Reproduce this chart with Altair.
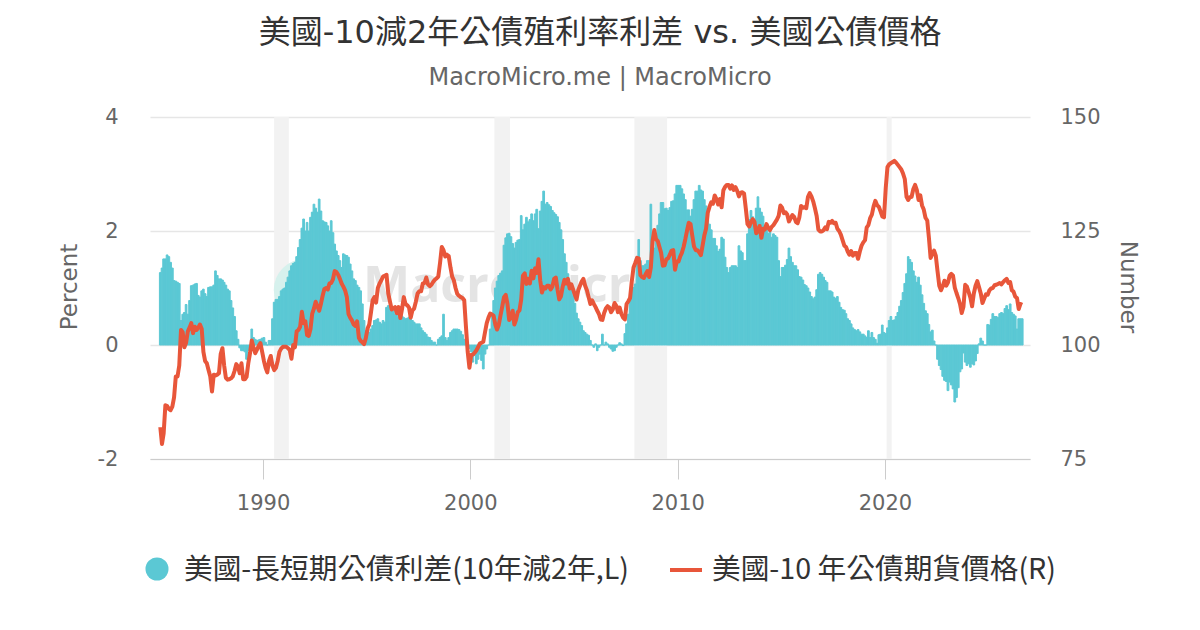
import altair as alt
import pandas as pd

# ---- data: monthly, starting Jan 1985 ----
spread = [
    1.27, 1.35, 1.51, 1.51, 1.58, 1.55, 1.45, 1.35, 1.13, 1.12,
    1.1, 1.08, 0.43, 0.54, 0.57, 0.71, 0.54, 0.78, 1.04, 1.05,
    1.07, 1.08, 0.87, 0.84, 0.95, 0.98, 0.9, 0.85, 1.01, 1.02,
    1.02, 1.05, 1.3, 1.22, 1.16, 1.16, 1.14, 1.1, 1.05, 0.98,
    0.95, 0.78, 0.65, 0.5, 0.25, 0.1, -0.05, -0.1, -0.1, -0.12,
    -0.25, -0.1, -0.08, 0.28, 0.13, 0.1, 0.08, 0.09, 0.1, 0.12,
    0.13, 0.05, 0.0, 0.08, 0.08, 0.46, 0.75, 0.8, 0.8, 0.85,
    0.95, 0.98, 1.0, 1.1, 1.19, 1.3, 1.39, 1.43, 1.45, 1.55,
    1.71, 1.85, 2.05, 2.21, 2.0, 2.15, 2.0, 2.24, 2.33, 2.47,
    2.4, 2.33, 2.56, 2.35, 2.18, 2.16, 2.15, 2.09, 2.0, 2.18,
    1.97, 1.77, 1.65, 1.57, 1.48, 1.36, 1.6, 1.58, 1.57, 1.54,
    1.42, 1.3, 1.16, 1.13, 1.05, 1.01, 0.95, 0.72, 0.43, 0.25,
    0.31, 0.22, 0.28, 0.34, 0.43, 0.44, 0.46, 0.4, 0.37, 0.43,
    0.4, 0.66, 0.69, 0.66, 0.63, 0.6, 0.54, 0.6, 0.49, 0.5,
    0.51, 0.48, 0.46, 0.47, 0.49, 0.46, 0.43, 0.4, 0.37, 0.37,
    0.37, 0.3, 0.25, 0.22, 0.19, 0.14, 0.13, 0.08, 0.05, 0.05,
    0.0, 0.1, 0.13, 0.16, 0.54, 0.13, 0.08, 0.13, 0.22, 0.25,
    0.28, 0.28, 0.28, 0.27, 0.24, 0.18, 0.1, 0.05, -0.02, -0.06,
    -0.12, -0.3, -0.18, -0.33, -0.25, -0.16, -0.27, -0.42, -0.16, -0.07,
    0.0, 0.28, 0.56, 0.78, 1.0, 1.12, 1.22, 1.26, 1.3, 1.75,
    1.88, 1.95, 1.96, 1.9, 1.78, 1.7, 1.8, 1.84, 1.85, 2.27,
    2.02, 2.12, 2.24, 2.16, 2.2, 2.3, 2.18, 2.3, 2.38, 2.04,
    2.35, 2.52, 2.7, 2.47, 2.5, 2.46, 2.43, 2.36, 2.32, 2.29,
    2.25, 2.15, 2.02, 1.85, 1.6, 1.45, 1.25, 1.1, 0.97, 0.86,
    0.73, 0.56, 0.46, 0.4, 0.34, 0.25, 0.22, 0.19, 0.17, 0.08,
    0.0, -0.04, 0.02, -0.1, -0.04, 0.0, 0.19, 0.0, 0.05, 0.02,
    -0.04, -0.07, -0.11, -0.1, -0.04, 0.0, 0.04, 0.02, -0.01, 0.2,
    0.37, 0.54, 0.78, 1.01, 1.01, 1.07, 1.45, 1.85, 1.48, 1.39,
    1.39, 1.42, 1.48, 1.48, 2.47, 1.85, 1.7, 1.95, 2.1, 2.3,
    2.5, 2.5, 2.39, 2.4, 2.36, 2.41, 2.52, 2.53, 2.65, 2.8,
    2.8, 2.8, 2.74, 2.65, 2.55, 2.37, 2.37, 2.26, 2.38, 2.55,
    2.7, 2.7, 2.8, 2.72, 2.7, 2.55, 2.44, 2.33, 2.12, 2.02,
    1.87, 1.87, 1.74, 1.64, 1.68, 1.89, 1.86, 1.54, 1.36, 1.27,
    1.36, 1.39, 1.39, 1.39, 1.36, 1.74, 1.65, 1.62, 1.48, 1.48,
    1.95, 2.2, 2.36, 2.25, 2.2, 2.4, 2.6, 2.4, 2.33, 2.26,
    2.1, 2.05, 1.96, 2.0, 1.89, 1.95, 1.92, 1.89, 1.48, 1.2,
    1.36, 1.36, 1.4, 1.5, 1.7, 1.55, 1.45, 1.39, 1.39, 1.32,
    1.2, 1.19, 1.14, 1.06, 1.04, 1.0, 0.93, 0.85, 0.81, 0.84,
    0.97, 1.24, 1.27, 1.24, 1.19, 1.13, 1.1, 0.95, 0.95, 0.93,
    0.84, 0.82, 0.85, 0.75, 0.66, 0.62, 0.61, 0.55, 0.46, 0.43,
    0.37, 0.3, 0.27, 0.25, 0.27, 0.23, 0.19, 0.19, 0.16, 0.13,
    0.25, 0.13, 0.22, 0.13, 0.1, 0.03, 0.18, 0.19, 0.35, 0.22,
    0.2, 0.3, 0.43, 0.5, 0.43, 0.44, 0.5, 0.57, 0.68, 0.78,
    0.92, 1.08, 1.25, 1.55, 1.5, 1.45, 1.3, 1.21, 1.1, 1.19,
    1.05, 0.88, 0.73, 0.6, 0.55, 0.36, 0.23, 0.26, 0.07, 0.0,
    -0.25, -0.36, -0.43, -0.55, -0.62, -0.64, -0.8, -0.65, -0.7, -0.77,
    -1.0, -0.92, -0.75, -0.47, -0.42, -0.14, -0.3, -0.36, -0.33, -0.39,
    -0.33, -0.35, -0.28, -0.15, 0.02, 0.12, 0.07, 0.0, 0.0, 0.36,
    0.35, 0.45, 0.55, 0.5, 0.5, 0.48, 0.55, 0.57, 0.55, 0.64,
    0.69, 0.62, 0.72, 0.57, 0.54, 0.51, 0.28, 0.46, 0.46, 0.46,
]

price = [
    82, 78.3, 80.6, 86.8, 86.6, 86, 85.7, 86.5, 88.5, 93.1,
    93.1, 95.5, 103.3, 102.8, 99.5, 100.5, 103, 103.8, 104.8, 102.6,
    104, 103.3, 103.8, 104.5, 103.5, 98.5, 96.5, 96, 94.5, 93.1,
    89.8, 93.5, 93.3, 93.5, 93.8, 98, 99.3, 95.5, 92.8, 92.4,
    92.5, 92.7, 93.1, 94.3, 95.8, 95.3, 93.8, 96, 92.5, 92.5,
    93, 96, 98.2, 101, 99.5, 98.2, 99, 99.8, 100.4, 98.5,
    96.5, 95, 94, 96.5, 97.6, 95.5, 94.5, 95, 96.5, 98.5,
    99.2, 99.6, 99.6, 99.6, 99.3, 98.9, 97, 100, 99.5, 103,
    103.3, 104, 107.3, 104.8, 105.2, 102.2, 102, 103.5, 106.9, 108,
    109.5, 108.5, 107.5, 109, 110.8, 112.3, 112.5, 112.2, 113.5, 113.6,
    114.4, 116.2, 116, 115.4, 114.5, 113.5, 112.8, 112, 110.5, 106.8,
    106, 105.4, 104.5, 104.2, 105.2, 101.6, 100.9, 100.6, 100.2, 101.5,
    103.6, 104.5, 107, 109.8, 110.5, 109.3, 112.5, 113.5, 114.2, 115,
    115.2, 115.4, 111.3, 109.5, 107.8, 108, 108.3, 107, 108.3, 105.9,
    108, 110.5, 109, 108.7, 108.2, 106, 107.6, 108, 109.5, 111.3,
    111.8, 111.8, 113.5, 113.6, 114.8, 113.3, 112.9, 113.2, 113.8, 114.3,
    114.6, 115, 118, 121.5, 120.8, 119.4, 119.8, 119.5, 117, 115,
    114.2, 112.5, 111.2, 110.8, 110.5, 110.3, 109.8, 104, 98.5, 95,
    97.8, 97.9, 98.3, 98.8, 99.5, 100.3, 100.5, 100.7, 102.8, 104.8,
    106, 106.9, 106.7, 106.4, 104.5, 103.4, 104.4, 106.5, 108.4, 110.5,
    111, 109, 105.5, 106, 107.5, 104.5, 105.5, 107.2, 107.6, 110,
    115.2, 115.7, 113.4, 114.5, 113.5, 116.3, 114.6, 116.8, 115.8, 118.8,
    114.2, 111.5, 112.7, 112.4, 113, 113, 112.2, 112.8, 114.5, 114.8,
    112.2, 110, 110.7, 112.8, 114.3, 113.5, 114.5, 112.4, 113.3, 112.2,
    111, 110, 112, 113, 113.9, 114.5, 113, 112, 110.5, 109,
    109.8, 109, 108.3, 107.5, 106.8, 105.6, 105.5, 107, 108, 108.5,
    108.2, 107.2, 107.8, 109.2, 108.6, 107.2, 108.2, 106.8, 106, 105.6,
    109, 109.6, 110.3, 114, 117, 118, 119.1, 119, 115.3, 114.9,
    114.7, 115.5, 116.2, 114.9, 117, 122.8, 125.2, 123.2, 122.8, 121.5,
    120.2, 117.4, 117.5, 118.8, 119, 119.8, 120.7, 120.8, 116.5, 118.3,
    118.3, 119.4, 120.2, 121.5, 123.2, 125.1, 126.8, 126.5, 124, 121.6,
    120.8, 120.8, 120.3, 119.7, 121.8, 124, 125.5, 129, 130.3, 131.3,
    131, 132.8, 132, 130.8, 132, 130.2, 133.9, 134.7, 135.1, 135.1,
    134.3, 135, 134, 134.6, 133.8, 132.6, 133.4, 133.5, 133.2, 130,
    126.5, 126, 126.9, 127.6, 127, 124.5, 125, 126.1, 123.5, 125.5,
    125.3, 126.5, 125.7, 125.2, 125.9, 126.3, 126.9, 127.5, 128.3, 130.6,
    130.1, 128.9, 129.1, 128.6, 127.1, 127.8, 128.5, 128.1, 127, 126.7,
    128, 130.5, 130.1, 130.2, 130, 132.5, 133.3, 132.6, 131.5, 130,
    128.3, 125.3, 124.9, 124.9, 125.2, 125.8, 125.4, 127, 126.8, 127.2,
    126.7, 126.8, 125.5, 125, 124.2, 123, 121.8, 121.5, 120.5, 119.8,
    120.6, 119.6, 120.2, 120.2, 118.9, 120.5, 121.8, 122.5, 123, 125.8,
    126.3, 127.8, 128.6, 130.4, 131.6, 130.7, 130.3, 129.3, 128.2, 128,
    134.5, 139, 139.6, 139.9, 140.1, 140.4, 140, 139.5, 139, 138.5,
    137.6, 136.4, 132.5, 131.8, 132.4, 132.5, 134.2, 135.1, 134, 131.8,
    132.8, 130.6, 129.7, 127.9, 127.3, 123.5, 119.1, 119.9, 120.7, 119.6,
    116.2, 113, 112, 112.9, 114.1, 113, 113.7, 115.2, 115.6, 115.2,
    112.6, 111.4, 110.3, 109, 107, 108.4, 113.2, 112.8, 111.6, 110.4,
    108.5, 111.3, 113, 114, 112.7, 111.3, 109.2, 110.2, 111.1, 111,
    112, 112.4, 112.5, 113.1, 113.2, 113.4, 113.6, 113.3, 113.8, 114.2,
    114.5, 113.6, 113.8, 112, 111.7, 110.6, 110.3, 107.9, 109, 108.8,
]

rec_start = ["1990-07-15", "2001-03-01", "2007-12-01", "2020-02-01"]
rec_end = ["1991-03-31", "2001-11-30", "2009-06-30", "2020-04-30"]

title_text = "美國-10減2年公債殖利率利差 vs. 美國公債價格"
subtitle_text = "MacroMicro.me | MacroMicro"
legend1 = "美國-長短期公債利差(10年減2年,L)"
legend2 = "美國-10 年公債期貨價格(R)"
year_ticks = [1990, 2000, 2010, 2020]

# ---- build tables ----
n = len(spread)
ms = pd.date_range("1985-01-01", periods=n + 1, freq="MS")
starts, ends = ms[:-1], ms[1:]
mids = starts + (ends - starts) / 2
bars_df = pd.DataFrame({
    "start": starts.strftime("%Y-%m-%d"),
    "end": ends.strftime("%Y-%m-%d"),
    "spread": spread,
})
line_df = pd.DataFrame({"mid": mids.strftime("%Y-%m-%dT%H:%M:%S"), "price": price[:n]})
rec_df = pd.DataFrame({"rs": rec_start, "re": rec_end})

W, H = 880, 342
TEAL = "#5bc8d4"
RED = "#e8563a"
FONT = "DejaVu Sans"
CJK = "DejaVu Sans, Noto Sans CJK TC"

xscale = alt.Scale(domain=["1984-07-19", "2027-01-01"])
xaxis = alt.Axis(
    values=[alt.DateTime(year=y, month=1, date=1) for y in year_ticks],
    format="%Y", title=None, grid=False,
    domainColor="#cccccc", tickColor="#cccccc", tickSize=20,
    labelPadding=13, labelFontSize=21, labelColor="#666666", labelFont=FONT,
    labelFlush=False,
)

rec = alt.Chart(rec_df).mark_rect(color="#f2f2f2").encode(
    x=alt.X("rs:T", scale=xscale, axis=xaxis),
    x2="re:T",
    y=alt.value(0), y2=alt.value(H),
)

one = pd.DataFrame({"k": [0]})
wm_circle = alt.Chart(one).mark_circle(color="#d6f1ed", opacity=1, size=3900).encode(
    x=alt.value(155), y=alt.value(173)
)
wm_text = alt.Chart(pd.DataFrame({"t": ["MacroMicro"]})).mark_text(
    align="left", baseline="middle", font="Open Sans", fontSize=50,
    fontWeight="bold", color="#e4e4e4"
).encode(text="t:N", x=alt.value(213), y=alt.value(170))

bars = alt.Chart(bars_df).mark_bar(color=TEAL, stroke=TEAL, strokeWidth=1).encode(
    x=alt.X("start:T", scale=xscale, axis=xaxis),
    x2="end:T",
    y=alt.Y("spread:Q", scale=alt.Scale(domain=[-2, 4], nice=False, zero=False),
            axis=alt.Axis(orient="left", values=[-2, 0, 2, 4], title=None,
                          grid=True, gridColor="#e6e6e6", gridWidth=1.5,
                          domain=False, ticks=False, labelPadding=32,
                          labelExpr="datum.value < 0 ? '-' + abs(datum.value) : '' + datum.value",
                          labelFontSize=21, labelColor="#666666", labelFont=FONT)),
    y2=alt.datum(0),
)

line = alt.Chart(line_df).mark_line(color=RED, strokeWidth=4, strokeJoin="round").encode(
    x=alt.X("mid:T", scale=xscale, axis=xaxis),
    y=alt.Y("price:Q", scale=alt.Scale(domain=[75, 150], nice=False, zero=False),
            axis=alt.Axis(orient="right", values=[75, 100, 125, 150], title=None,
                          grid=False, domain=False, ticks=False, labelPadding=30,
                          labelFontSize=21, labelColor="#666666", labelFont=FONT)),
)


def txt(s, x, y, size, color, font=CJK, angle=0, align="center"):
    return alt.Chart(pd.DataFrame({"t": [s]})).mark_text(
        align=align, baseline="middle", font=font, fontSize=size,
        color=color, angle=angle
    ).encode(text="t:N", x=alt.value(x), y=alt.value(y))


title = txt(title_text, 450, -84, 32, "#333333")
subtitle = txt(subtitle_text, 450, -39, 24, "#666666", font=FONT)
ptitle = txt("Percent", -80, 170, 23, "#666666", font=FONT, angle=270)
ntitle = txt("Number", 978, 170, 23, "#666666", font=FONT, angle=90)

leg_circle = alt.Chart(one).mark_circle(color=TEAL, opacity=1, size=530).encode(
    x=alt.value(7), y=alt.value(452)
)
leg_text1 = txt(legend1, 34, 453, 28.7, "#333333", font="Noto Sans CJK TC", align="left")
leg_line = alt.Chart(one).mark_rule(color=RED, strokeWidth=4).encode(
    x=alt.value(520), x2=alt.value(552), y=alt.value(453)
)
leg_text2 = txt(legend2, 562, 453, 28.7, "#333333", font="Noto Sans CJK TC", align="left")

chart = alt.layer(
    rec, wm_circle, wm_text, bars, line,
    title, subtitle, ptitle, ntitle,
    leg_circle, leg_text1, leg_line, leg_text2,
).resolve_scale(y="independent").properties(
    width=W, height=H,
    autosize=alt.AutoSizeParams(type="none"),
    padding={"left": 142, "top": 109, "right": 162, "bottom": 155},
).configure_view(stroke=None)

chart.save("out.html", embed_options={"renderer": "svg", "actions": False})
